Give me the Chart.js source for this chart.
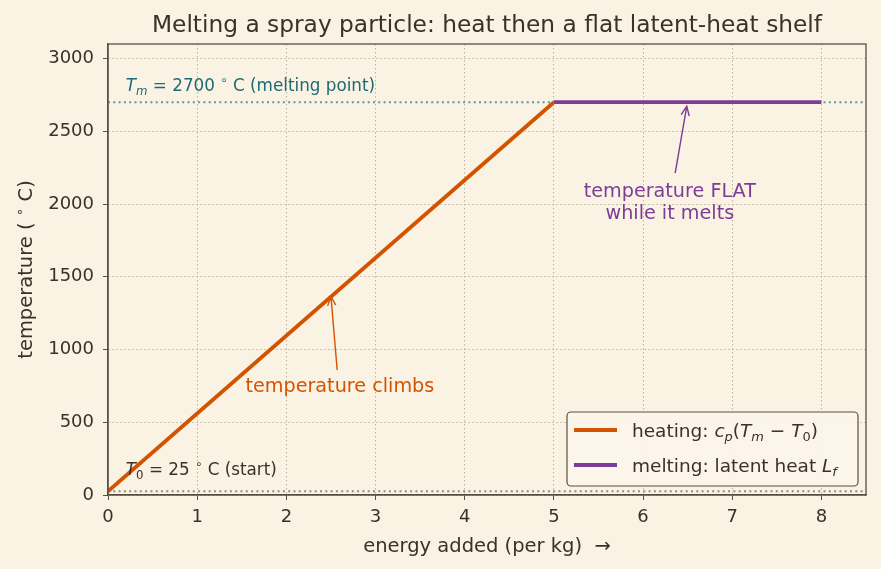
<!DOCTYPE html>
<html>
<head>
<meta charset="utf-8">
<script src="https://cdn.jsdelivr.net/npm/chart.js@4"></script>
<style>
  html, body { margin: 0; padding: 0; background: #faf2e3; }
  #wrap { width: 881px; height: 569px; position: relative; }
</style>
</head>
<body>
<div id="wrap"><canvas id="meltChart" width="881" height="569"></canvas></div>
<script>
// --- data ---
var heatX = [0, 5];
var heatY = [25, 2700];
var meltX = [5, 8];
var meltY = [2700, 2700];
var T0 = 25;
var Tm = 2700;
var xTicks = [0, 1, 2, 3, 4, 5, 6, 7, 8];
var yTicks = [0, 500, 1000, 1500, 2000, 2500, 3000];
var xMax = 8.5;
var yMax = 3100;

var FONT = '"DejaVu Sans", Verdana, sans-serif';
var INK = '#3b3129';
var ORANGE = '#d35400';
var PURPLE = '#7d3c98';
var TEAL = '#5a9a9b';
var TEAL_TXT = '#1d6b74';

// annotation text + arrows (data coords)
var notes = [
    { lines: ['temperature climbs'], at: [2.6, 708], color: ORANGE, from: [2.57, 859], to: [2.5, 1365] },
    { lines: ['temperature FLAT', 'while it melts'], at: [6.3, 2048], color: PURPLE, from: [6.36, 2213], to: [6.49, 2672] }
];

// rich text segments: i = italic, s = subscript, u = small raised
var tmLabel = [{t: 'T', i: 1}, {t: 'm', i: 1, s: 1}, {t: ' = 2700 '}, {t: '∘', u: 1}, {t: ' C (melting point)'}];
var t0Label = [{t: 'T', i: 1}, {t: '0', s: 1}, {t: ' = 25 '}, {t: '∘', u: 1}, {t: ' C (start)'}];
var yLabel = [{t: 'temperature ( '}, {t: '∘', u: 1}, {t: ' C)'}];
var heatLabel = [{t: 'heating: '}, {t: 'c', i: 1}, {t: 'p', i: 1, s: 1}, {t: '('}, {t: 'T', i: 1}, {t: 'm', i: 1, s: 1},
    {t: ' − '}, {t: 'T', i: 1}, {t: '0', s: 1}, {t: ')'}];
var meltLabel = [{t: 'melting: latent heat '}, {t: 'L', i: 1}, {t: 'f', i: 1, s: 1}];

function segFont(seg, size) {
    var sz = (seg.s || seg.u) ? size * 0.7 : size;
    return (seg.i ? 'italic ' : '') + sz + 'px ' + FONT;
}

function richWidth(ctx, segs, size) {
    var w = 0;
    segs.forEach(function(seg) {
        ctx.font = segFont(seg, size);
        w += ctx.measureText(seg.t).width;
    });
    return w;
}

function drawRich(ctx, segs, x, y, size, color) {
    ctx.save();
    ctx.fillStyle = color;
    ctx.textAlign = 'left';
    ctx.textBaseline = 'alphabetic';
    segs.forEach(function(seg) {
        ctx.font = segFont(seg, size);
        var dy = seg.s ? size * 0.22 : (seg.u ? -size * 0.4 : 0);
        ctx.fillText(seg.t, x, y + dy);
        x += ctx.measureText(seg.t).width;
    });
    ctx.restore();
}

function arrow(ctx, x1, y1, x2, y2, color) {
    var a = Math.atan2(y2 - y1, x2 - x1);
    var h = 10;
    ctx.save();
    ctx.strokeStyle = color;
    ctx.lineWidth = 1.4;
    ctx.beginPath();
    ctx.moveTo(x1, y1);
    ctx.lineTo(x2, y2);
    ctx.moveTo(x2 - h * Math.cos(a - 0.42), y2 - h * Math.sin(a - 0.42));
    ctx.lineTo(x2, y2);
    ctx.lineTo(x2 - h * Math.cos(a + 0.42), y2 - h * Math.sin(a + 0.42));
    ctx.stroke();
    ctx.restore();
}

var decor = {
    id: 'decor',
    beforeDraw: function(chart) {
        var ctx = chart.ctx;
        ctx.save();
        ctx.fillStyle = '#faf2e3';
        ctx.fillRect(0, 0, chart.width, chart.height);
        ctx.restore();
    },
    afterDatasetsDraw: function(chart) {
        var ctx = chart.ctx;
        var xs = chart.scales.x, ys = chart.scales.y;
        var area = chart.chartArea;

        // frame
        ctx.save();
        ctx.strokeStyle = '#5a4e44';
        ctx.lineWidth = 1.3;
        ctx.strokeRect(area.left, area.top, area.right - area.left, area.bottom - area.top);
        ctx.restore();

        // title
        ctx.save();
        ctx.fillStyle = INK;
        ctx.font = '23.3px ' + FONT;
        ctx.textAlign = 'center';
        ctx.textBaseline = 'alphabetic';
        ctx.fillText('Melting a spray particle: heat then a flat latent-heat shelf', (area.left + area.right) / 2, 32);

        // axis titles
        ctx.font = '19.5px ' + FONT;
        ctx.fillText('energy added (per kg)  →', (area.left + area.right) / 2, 552);
        ctx.translate(32, (area.top + area.bottom) / 2);
        ctx.rotate(-Math.PI / 2);
        var yw = richWidth(ctx, yLabel, 19.5);
        drawRich(ctx, yLabel, -yw / 2, 0, 19.5, INK);
        ctx.restore();

        // reference line labels
        drawRich(ctx, tmLabel, xs.getPixelForValue(0.2), ys.getPixelForValue(2777), 16.8, TEAL_TXT);
        drawRich(ctx, t0Label, xs.getPixelForValue(0.2), ys.getPixelForValue(137), 16.8, INK);

        // annotations
        notes.forEach(function(n) {
            arrow(ctx, xs.getPixelForValue(n.from[0]), ys.getPixelForValue(n.from[1]),
                xs.getPixelForValue(n.to[0]), ys.getPixelForValue(n.to[1]), n.color);
            ctx.save();
            ctx.fillStyle = n.color;
            ctx.font = '19.2px ' + FONT;
            ctx.textAlign = 'center';
            ctx.textBaseline = 'alphabetic';
            var cx = xs.getPixelForValue(n.at[0]);
            var cy = ys.getPixelForValue(n.at[1]);
            n.lines.forEach(function(line, k) {
                ctx.fillText(line, cx, cy + k * 22);
            });
            ctx.restore();
        });

        // legend box, lower right
        var bw = 291, bh = 74;
        var bx = area.right - 8 - bw, by = area.bottom - 9 - bh;
        ctx.save();
        ctx.fillStyle = 'rgba(251,245,234,0.9)';
        ctx.strokeStyle = '#5a4e44';
        ctx.lineWidth = 1.2;
        ctx.beginPath();
        ctx.roundRect(bx, by, bw, bh, 4);
        ctx.fill();
        ctx.stroke();
        var items = [[ORANGE, heatLabel], [PURPLE, meltLabel]];
        items.forEach(function(it, k) {
            var ly = by + 18 + k * 35;
            ctx.strokeStyle = it[0];
            ctx.lineWidth = 3.8;
            ctx.beginPath();
            ctx.moveTo(bx + 7, ly);
            ctx.lineTo(bx + 50, ly);
            ctx.stroke();
            drawRich(ctx, it[1], bx + 65, ly + 7, 18.5, INK);
        });
        ctx.restore();
    }
};

function pts(xs, ys) {
    return xs.map(function(x, i) { return {x: x, y: ys[i]}; });
}

var ctx = document.getElementById('meltChart');
new Chart(ctx, {
    type: 'line',
    data: {
        datasets: [{
            label: 'heating',
            data: pts(heatX, heatY),
            borderColor: ORANGE,
            borderWidth: 3.8,
            pointRadius: 0,
            order: 0
        }, {
            label: 'melting',
            data: pts(meltX, meltY),
            borderColor: PURPLE,
            borderWidth: 3.8,
            pointRadius: 0,
            order: 1
        }, {
            label: 'Tm',
            data: pts([0, xMax], [Tm, Tm]),
            borderColor: TEAL,
            borderWidth: 2,
            borderDash: [2, 3.3],
            pointRadius: 0,
            order: 2
        }, {
            label: 'T0',
            data: pts([0, xMax], [T0, T0]),
            borderColor: '#8f8a84',
            borderWidth: 2,
            borderDash: [2, 3.3],
            pointRadius: 0,
            order: 3
        }]
    },
    options: {
        responsive: false,
        animation: false,
        layout: { padding: { top: 44, right: 15, left: 0, bottom: 0 } },
        scales: {
            x: {
                type: 'linear',
                min: 0,
                max: xMax,
                afterBuildTicks: function(s) { s.ticks = xTicks.map(function(v) { return {value: v}; }); },
                afterFit: function(s) { s.height = 74; },
                ticks: { color: INK, font: { family: FONT, size: 18 }, padding: 7, maxRotation: 0,
                    callback: function(v) { return String(v); } },
                grid: { color: '#bdb4a6', lineWidth: 1, tickColor: '#5a4e44', tickLength: 5, tickBorderDash: [] },
                border: { color: '#5a4e44', width: 1.3, dash: [1.5, 2.5] }
            },
            y: {
                type: 'linear',
                min: 0,
                max: yMax,
                afterBuildTicks: function(s) { s.ticks = yTicks.map(function(v) { return {value: v}; }); },
                afterFit: function(s) { s.width = 108; },
                ticks: { color: INK, font: { family: FONT, size: 18 }, padding: 9,
                    callback: function(v) { return String(v); } },
                grid: { color: '#bdb4a6', lineWidth: 1, tickColor: '#5a4e44', tickLength: 5, tickBorderDash: [] },
                border: { color: '#5a4e44', width: 1.3, dash: [1.5, 2.5] }
            }
        },
        plugins: {
            legend: { display: false },
            title: { display: false },
            tooltip: { enabled: false }
        }
    },
    plugins: [decor]
});
</script>
</body>
</html>
